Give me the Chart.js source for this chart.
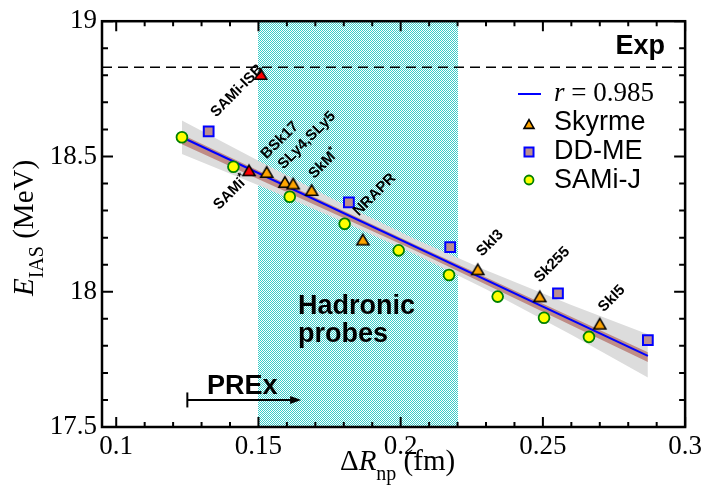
<!DOCTYPE html>
<html><head><meta charset="utf-8">
<script src="https://cdn.jsdelivr.net/npm/chart.js@4/dist/chart.umd.min.js"></script>
<style>html,body{margin:0;padding:0;background:#fff}#wrap{width:706px;height:494px}</style>
</head><body><div id="wrap"><canvas id="c" width="706" height="494"></canvas></div>
<script>
// ---- data ----
const xTicks = [0.1, 0.15, 0.2, 0.25, 0.3];
const yTicks = [17.5, 18, 18.5, 19];
const skyrmeX = [0.1529, 0.1593, 0.1622, 0.1687, 0.1867, 0.2271, 0.2489, 0.2700];
const skyrmeY = [18.443, 18.406, 18.400, 18.376, 18.193, 18.083, 17.983, 17.882];
const samiSkyX = [0.1508, 0.1467];
const samiSkyY = [18.805, 18.449];
const ddmeX = [0.1325, 0.1818, 0.2174, 0.2553, 0.2869];
const ddmeY = [18.593, 18.330, 18.165, 17.994, 17.821];
const samijX = [0.1231, 0.1412, 0.1610, 0.1803, 0.1993, 0.2170, 0.2341, 0.2504, 0.2662];
const samijY = [18.571, 18.462, 18.351, 18.251, 18.153, 18.062, 17.982, 17.904, 17.833];
const fitX = [0.1231, 0.2869];
const fitY = [18.571, 17.763];
const bandX = [0.1231, 0.15, 0.18, 0.205, 0.23, 0.26, 0.2869];
const bandUpper = [18.633, 18.484, 18.322, 18.195, 18.079, 17.951, 17.843];
const bandLower = [18.509, 18.394, 18.258, 18.139, 18.009, 17.841, 17.683];
const brownX = [0.1231, 0.205, 0.2869];
const brownUpper = [18.581, 18.175, 17.776];
const brownLower = [18.545, 18.152, 17.740];
const expValue = 18.83;
const hadronicRange = [0.15, 0.22];
const prexRange = [0.125, 0.165];
const prexY = 17.6;
const labelNames = ['SAMi-ISB', 'SAMi*', 'BSk17', 'SLy4,SLy5', 'SkM*', 'NRAPR', 'SkI3', 'Sk255', 'SkI5'];
const labelX = [0.1422, 0.1400, 0.1572, 0.1667, 0.1726, 0.1905, 0.2311, 0.2529, 0.2739];
const labelY = [18.746, 18.370, 18.563, 18.563, 18.476, 18.362, 18.183, 18.103, 17.978];
const fitLabel = '0.985';

const pts = (xs, ys) => xs.map((x, i) => ({x: x, y: ys[i]}));

function triCanvas(fill, w) {
  const c = document.createElement('canvas');
  c.width = 18; c.height = 18;
  const g = c.getContext('2d');
  const h = w * Math.sqrt(3) / 2;
  g.beginPath();
  g.moveTo(9, 9 - h / 2);
  g.lineTo(9 + w / 2, 9 + h / 2);
  g.lineTo(9 - w / 2, 9 + h / 2);
  g.closePath();
  g.fillStyle = fill; g.fill();
  g.lineWidth = 1.6; g.lineJoin = 'miter'; g.strokeStyle = '#000'; g.stroke();
  return c;
}
const triOrange = triCanvas('#ffa500', 12);
const triRed = triCanvas('#ff0000', 12);

const pc = document.createElement('canvas');
pc.width = 2; pc.height = 2;
const pg = pc.getContext('2d');
pg.fillStyle = '#ffffff'; pg.fillRect(0, 0, 2, 2);
pg.fillStyle = 'rgb(56,204,200)'; pg.fillRect(0, 0, 1, 1); pg.fillRect(1, 1, 1, 1);

const SERIF = '"Liberation Serif", "Times New Roman", serif';
const SANS = '"Liberation Sans", Arial, sans-serif';

const deco = {
  id: 'deco',
  beforeDatasetsDraw(chart) {
    const {ctx, chartArea: a, scales: {x}} = chart;
    const pat = ctx.createPattern(pc, 'repeat');
    const x0 = Math.round(x.getPixelForValue(hadronicRange[0]));
    const x1 = Math.round(x.getPixelForValue(hadronicRange[1]));
    ctx.save();
    ctx.fillStyle = pat;
    ctx.fillRect(x0, a.top, x1 - x0, a.bottom - a.top);
    ctx.restore();
  },
  afterDatasetsDraw(chart) {
    const {ctx, chartArea: a, scales: {x, y}} = chart;
    ctx.save();
    // Exp dashed line
    const ye = y.getPixelForValue(expValue);
    ctx.strokeStyle = '#000'; ctx.lineWidth = 1.5; ctx.setLineDash([10, 6]);
    ctx.beginPath(); ctx.moveTo(a.left, ye); ctx.lineTo(a.right, ye); ctx.stroke();
    ctx.setLineDash([]);
    ctx.fillStyle = '#000';
    ctx.font = 'bold 27px ' + SANS;
    ctx.textAlign = 'right'; ctx.textBaseline = 'alphabetic';
    ctx.fillText('Exp', 665, 54);
    ctx.textAlign = 'left';
    ctx.fillText('Hadronic', 298, 314);
    ctx.fillText('probes', 298, 342);
    ctx.fillText('PREx', 207, 394);
    // PREx arrow
    const px0 = x.getPixelForValue(prexRange[0]), px1 = x.getPixelForValue(prexRange[1]);
    const py = y.getPixelForValue(prexY);
    ctx.lineWidth = 2;
    ctx.beginPath(); ctx.moveTo(px0, py); ctx.lineTo(px1 - 8, py); ctx.stroke();
    ctx.beginPath(); ctx.moveTo(px0, py - 7.5); ctx.lineTo(px0, py + 7.5); ctx.stroke();
    ctx.beginPath(); ctx.moveTo(px1, py); ctx.lineTo(px1 - 11, py - 4); ctx.lineTo(px1 - 11, py + 4); ctx.closePath(); ctx.fill();
    // rotated labels
    labelNames.forEach((name, i) => {
      const cx = x.getPixelForValue(labelX[i]), cy = y.getPixelForValue(labelY[i]);
      const star = name.endsWith('*');
      const main = star ? name.slice(0, -1) : name;
      ctx.save();
      ctx.translate(cx, cy); ctx.rotate(-Math.PI / 4);
      ctx.font = 'bold 15px ' + SANS;
      const mw = ctx.measureText(main).width;
      ctx.font = 'bold 11px ' + SANS;
      const sw = star ? ctx.measureText('*').width : 0;
      const w = mw + sw;
      ctx.font = 'bold 15px ' + SANS;
      ctx.textAlign = 'left'; ctx.textBaseline = 'alphabetic';
      ctx.fillText(main, -w / 2, 5.5);
      if (star) { ctx.font = 'bold 11px ' + SANS; ctx.fillText('*', -w / 2 + mw, 0); }
      ctx.restore();
    });
    // legend
    ctx.strokeStyle = '#0000ff'; ctx.lineWidth = 2;
    ctx.beginPath(); ctx.moveTo(518, 94); ctx.lineTo(541, 94); ctx.stroke();
    ctx.fillStyle = '#000';
    ctx.font = 'italic 27px ' + SERIF;
    ctx.textAlign = 'left';
    ctx.fillText('r', 554, 101);
    const rw = ctx.measureText('r').width;
    ctx.font = '27px ' + SERIF;
    ctx.fillText(' = ' + fitLabel, 554 + rw, 101);
    ctx.drawImage(triCanvas('#ffa500', 10), 529 - 9, 124 - 9);
    ctx.fillStyle = '#bc8f8f'; ctx.fillRect(524.5, 147.5, 9, 9);
    ctx.strokeStyle = '#0000ff'; ctx.lineWidth = 2; ctx.strokeRect(524.5, 147.5, 9, 9);
    ctx.beginPath(); ctx.arc(529, 180, 4.5, 0, Math.PI * 2);
    ctx.fillStyle = '#ffff00'; ctx.fill(); ctx.strokeStyle = '#008000'; ctx.lineWidth = 1.8; ctx.stroke();
    ctx.fillStyle = '#000';
    ctx.font = '27px ' + SANS;
    ctx.fillText('Skyrme', 554, 130);
    ctx.fillText('DD-ME', 554, 159);
    ctx.fillText('SAMi-J', 554, 188);
    // frame and inward ticks
    ctx.strokeStyle = '#000'; ctx.lineWidth = 2.5;
    ctx.strokeRect(a.left, a.top, a.right - a.left, a.bottom - a.top);
    ctx.lineWidth = 2;
    const tick = (px, len, vertical) => {
      ctx.beginPath();
      if (vertical) {
        ctx.moveTo(px, a.bottom); ctx.lineTo(px, a.bottom - len);
        ctx.moveTo(px, a.top); ctx.lineTo(px, a.top + len);
      } else {
        ctx.moveTo(a.left, px); ctx.lineTo(a.left + len, px);
        ctx.moveTo(a.right, px); ctx.lineTo(a.right - len, px);
      }
      ctx.stroke();
    };
    for (let k = 0; k <= 20; k++) {
      const v = xTicks[0] + k * 0.01;
      tick(x.getPixelForValue(v), k % 5 === 0 ? 10 : 5, true);
    }
    for (let k = 0; k <= 15; k++) {
      const v = yTicks[0] + k * 0.1;
      tick(y.getPixelForValue(v), k % 5 === 0 ? 11 : 6, false);
    }
    // axis titles
    ctx.fillStyle = '#000';
    ctx.textAlign = 'left'; ctx.textBaseline = 'alphabetic';
    let cx = 340;
    ctx.font = '29px ' + SERIF; ctx.fillText('\u0394', cx, 470); cx += ctx.measureText('\u0394').width;
    ctx.font = 'italic 29px ' + SERIF; ctx.fillText('R', cx, 470); cx += ctx.measureText('R').width;
    ctx.font = '20px ' + SERIF; ctx.fillText('np', cx, 480); cx += ctx.measureText('np').width;
    ctx.font = '29px ' + SERIF; ctx.fillText(' (fm)', cx, 470);
    ctx.save();
    ctx.translate(33, 296); ctx.rotate(-Math.PI / 2);
    let u = 0;
    ctx.font = 'italic 29px ' + SERIF; ctx.fillText('E', u, 0); u += ctx.measureText('E').width;
    ctx.font = '20px ' + SERIF; ctx.fillText('IAS', u, 10); u += ctx.measureText('IAS').width;
    ctx.font = '29px ' + SERIF; ctx.fillText(' (MeV)', u, 0);
    ctx.restore();
    ctx.restore();
  }
};

new Chart(document.getElementById('c'), {
  type: 'scatter',
  data: {
    datasets: [
      {label: 'SAMi-J', data: pts(samijX, samijY), pointStyle: 'circle', pointRadius: 5.4,
       backgroundColor: '#ffff00', borderColor: '#008000', borderWidth: 1.8, order: 1},
      {label: 'DD-ME', data: pts(ddmeX, ddmeY), pointStyle: 'rect', pointRadius: 6.9,
       backgroundColor: '#bc8f8f', borderColor: '#0000ff', borderWidth: 2, order: 2},
      {label: 'Skyrme', data: pts(skyrmeX, skyrmeY), pointStyle: triOrange, order: 3},
      {label: 'SAMi', data: pts(samiSkyX, samiSkyY), pointStyle: triRed, order: 3},
      {label: 'fit', type: 'line', data: pts(fitX, fitY), borderColor: '#0000ff', borderWidth: 2,
       pointRadius: 0, fill: false, tension: 0, order: 5},
      {label: 'brownLo', type: 'line', data: pts(brownX, brownLower), borderWidth: 0, pointRadius: 0,
       fill: false, order: 6},
      {label: 'brownHi', type: 'line', data: pts(brownX, brownUpper), borderWidth: 0, pointRadius: 0,
       fill: '-1', backgroundColor: '#bf8c86', order: 6},
      {label: 'bandLo', type: 'line', data: pts(bandX, bandLower), borderWidth: 0, pointRadius: 0,
       fill: false, order: 8},
      {label: 'bandHi', type: 'line', data: pts(bandX, bandUpper), borderWidth: 0, pointRadius: 0,
       fill: '-1', backgroundColor: '#dcdcdc', order: 8}
    ]
  },
  options: {
    animation: false, responsive: false, events: [],
    layout: {padding: {top: 18, right: 19, left: 0, bottom: 0}},
    plugins: {legend: {display: false}, tooltip: {enabled: false}},
    scales: {
      x: {type: 'linear', min: 0.095, max: 0.3,
          afterBuildTicks: s => { s.ticks = xTicks.map(v => ({value: v})); },
          afterFit: s => { s.height = 67; },
          grid: {display: false, drawTicks: false}, border: {display: false},
          ticks: {color: '#000', padding: 4, maxRotation: 0, autoSkip: false,
                  font: {family: SERIF, size: 27}, callback: v => String(v)}},
      y: {type: 'linear', min: 17.5, max: 19,
          afterBuildTicks: s => { s.ticks = yTicks.map(v => ({value: v})); },
          afterFit: s => { s.width = 102; },
          grid: {display: false, drawTicks: false}, border: {display: false},
          ticks: {color: '#000', padding: 5, autoSkip: false,
                  font: {family: SERIF, size: 27}, callback: v => String(v)}}
    }
  },
  plugins: [deco]
});
</script></body></html>
